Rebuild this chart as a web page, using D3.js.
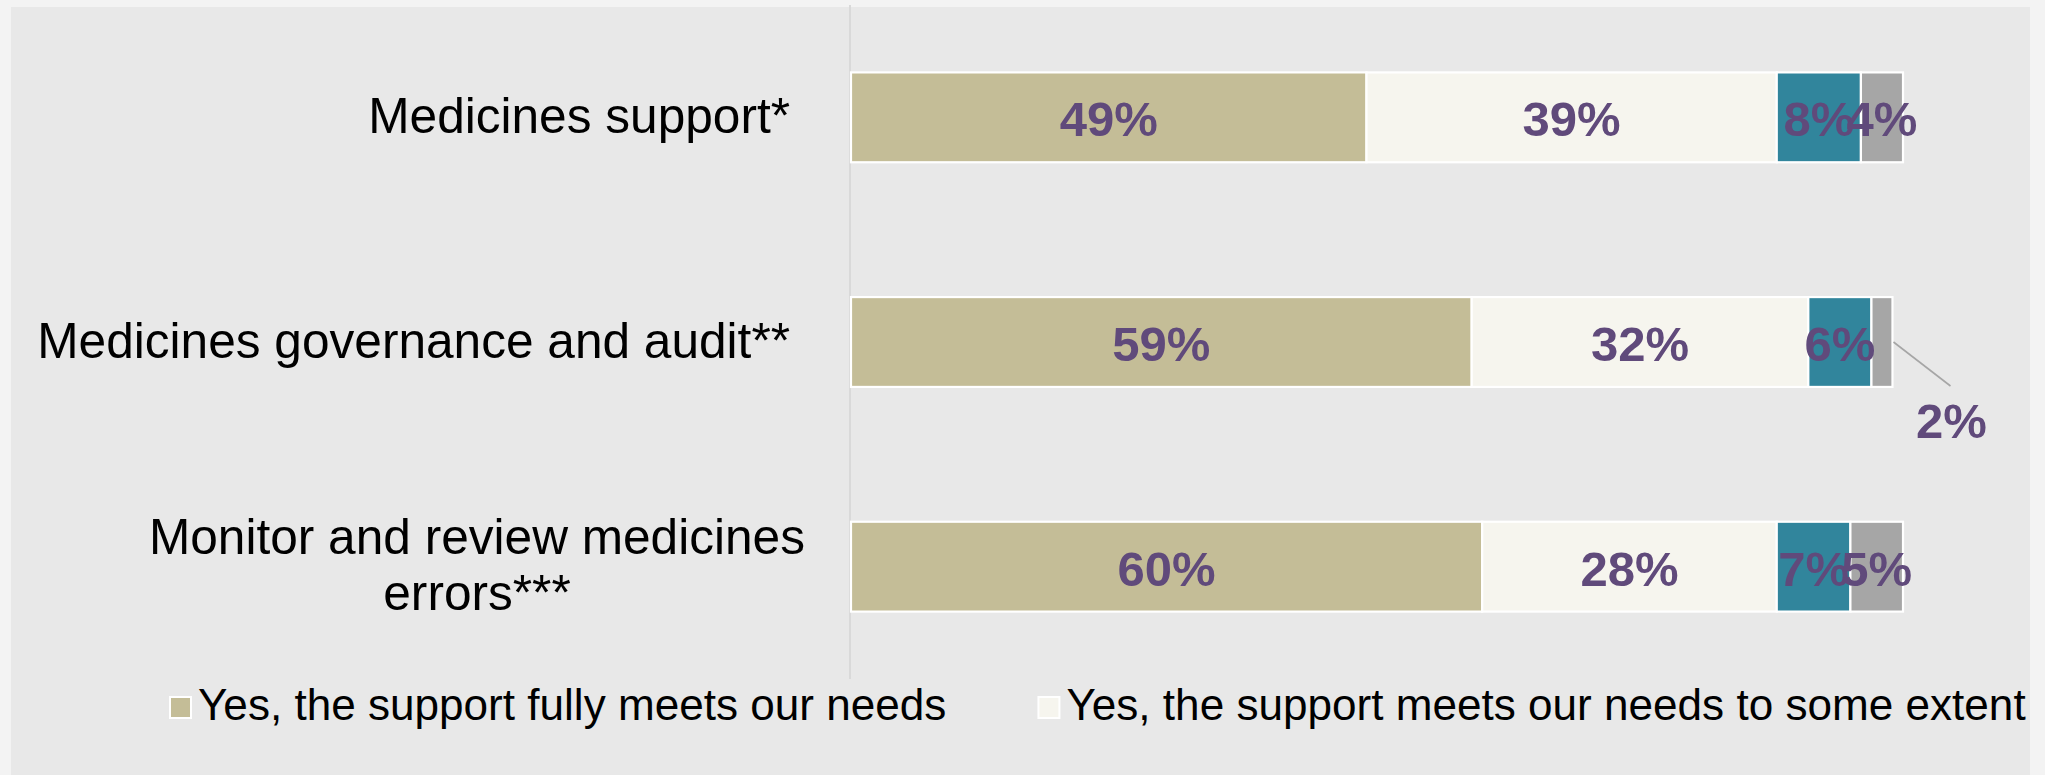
<!DOCTYPE html>
<html>
<head>
<meta charset="utf-8">
<script src="https://cdn.jsdelivr.net/npm/d3@7"></script>
<style>
  html, body { margin: 0; padding: 0; background: #f3f3f3; overflow: hidden; }
  svg { display: block; }
</style>
</head>
<body>
<svg id="chart" width="2045" height="775"></svg>
<script>
// Survey areas (top to bottom) and the lines each label wraps to
const categories = [
  "Medicines support*",
  "Medicines governance and audit**",
  "Monitor and review medicines errors***"
];
const categoryLines = [
  ["Medicines support*"],
  ["Medicines governance and audit**"],
  ["Monitor and review medicines", "errors***"]
];

// Response shares, % of respondents, one array per response option
const fullyMeets = [49, 59, 60];
const someExtent = [39, 32, 28];
const notMet     = [8, 6, 7];
const unsure     = [4, 2, 5];

const seriesKeys = ["fullyMeets", "someExtent", "notMet", "unsure"];
const seriesColors = ["#c4bd97", "#f6f5ee", "#31859c", "#a6a6a6"];

// Only the first two entries fit in the legend row
const legendLabels = [
  "Yes, the support fully meets our needs",
  "Yes, the support meets our needs to some extent"
];

const xTicks = [0, 100];

const rows = categories.map((c, i) => ({
  category: c,
  fullyMeets: fullyMeets[i],
  someExtent: someExtent[i],
  notMet: notMet[i],
  unsure: unsure[i]
}));

const W = 2045, H = 775;
const svg = d3.select("#chart");

// panel background
svg.append("rect")
  .attr("x", 11).attr("y", 7)
  .attr("width", 2030 - 11).attr("height", H - 7)
  .attr("fill", "#e8e8e8");

const x = d3.scaleLinear().domain(d3.extent(xTicks)).range([851, 1903]);
const y = d3.scaleBand().domain(categories).range([5, 679])
  .paddingInner(0.6).paddingOuter(0.3);

// category axis line
svg.append("line")
  .attr("x1", 850).attr("x2", 850)
  .attr("y1", y.range()[0]).attr("y2", y.range()[1])
  .attr("stroke", "#d9d9d9").attr("stroke-width", 2);

const stacked = d3.stack().keys(seriesKeys)(rows);

const layers = svg.append("g").selectAll("g")
  .data(stacked).join("g")
  .attr("fill", (d, i) => seriesColors[i]);

layers.selectAll("rect")
  .data(d => d).join("rect")
  .attr("x", d => x(d[0]))
  .attr("y", d => y(d.data.category))
  .attr("width", d => x(d[1]) - x(d[0]))
  .attr("height", y.bandwidth())
  .attr("stroke", "#ffffff")
  .attr("stroke-width", 2.2);

// value labels
const labelColor = "#604a7b";
const labelFont = "'Liberation Sans', Arial, sans-serif";
const labelG = svg.append("g")
  .attr("font-family", labelFont)
  .attr("font-weight", "bold")
  .attr("font-size", 49)
  .attr("fill", labelColor)
  .attr("text-anchor", "middle");

stacked.forEach(layer => {
  layer.forEach(seg => {
    const v = seg[1] - seg[0];
    const cy = y(seg.data.category) + y.bandwidth() / 2;
    if (v >= 3) {
      labelG.append("text")
        .attr("x", (x(seg[0]) + x(seg[1])) / 2)
        .attr("y", cy + 19)
        .text(v + "%");
    } else {
      // thin segment: label sits below-right with a leader line
      const x0 = x(seg[1]);
      svg.append("line")
        .attr("x1", x0 + 1).attr("y1", cy)
        .attr("x2", x0 + 58).attr("y2", cy + 44)
        .attr("stroke", "#a6a6a6").attr("stroke-width", 1.6);
      labelG.append("text")
        .attr("x", x0 + 59)
        .attr("y", cy + 96)
        .text(v + "%");
    }
  });
});

// category labels
const catG = svg.append("g")
  .attr("font-family", labelFont)
  .attr("font-size", 49.6)
  .attr("fill", "#000000");

const labelRight = 790;
const lineHeight = 56;
categoryLines.forEach((lines, i) => {
  const cy = y(categories[i]) + y.bandwidth() / 2;
  if (lines.length === 1) {
    catG.append("text")
      .attr("x", labelRight)
      .attr("y", cy + 16)
      .attr("text-anchor", "end")
      .text(lines[0]);
  } else {
    const t = catG.append("text").attr("text-anchor", "middle");
    const spans = lines.map((ln, k) => t.append("tspan")
      .attr("y", cy + 15 + (k - (lines.length - 1) / 2) * lineHeight)
      .text(ln));
    const maxW = d3.max(spans, s => s.node().getComputedTextLength());
    spans.forEach(s => s.attr("x", labelRight + 15 - maxW / 2));
  }
});

// legend
const legG = svg.append("g")
  .attr("font-family", labelFont)
  .attr("font-size", 44.1)
  .attr("fill", "#000000");
let lx = 170;
legendLabels.forEach((lab, i) => {
  legG.append("rect")
    .attr("x", lx).attr("y", 697)
    .attr("width", 21).attr("height", 21)
    .attr("fill", seriesColors[i])
    .attr("stroke", "#ffffff").attr("stroke-width", 2);
  const t = legG.append("text")
    .attr("x", lx + 28).attr("y", 720)
    .text(lab);
  lx = lx + 28 + t.node().getComputedTextLength() + 92;
});
</script>
</body>
</html>
